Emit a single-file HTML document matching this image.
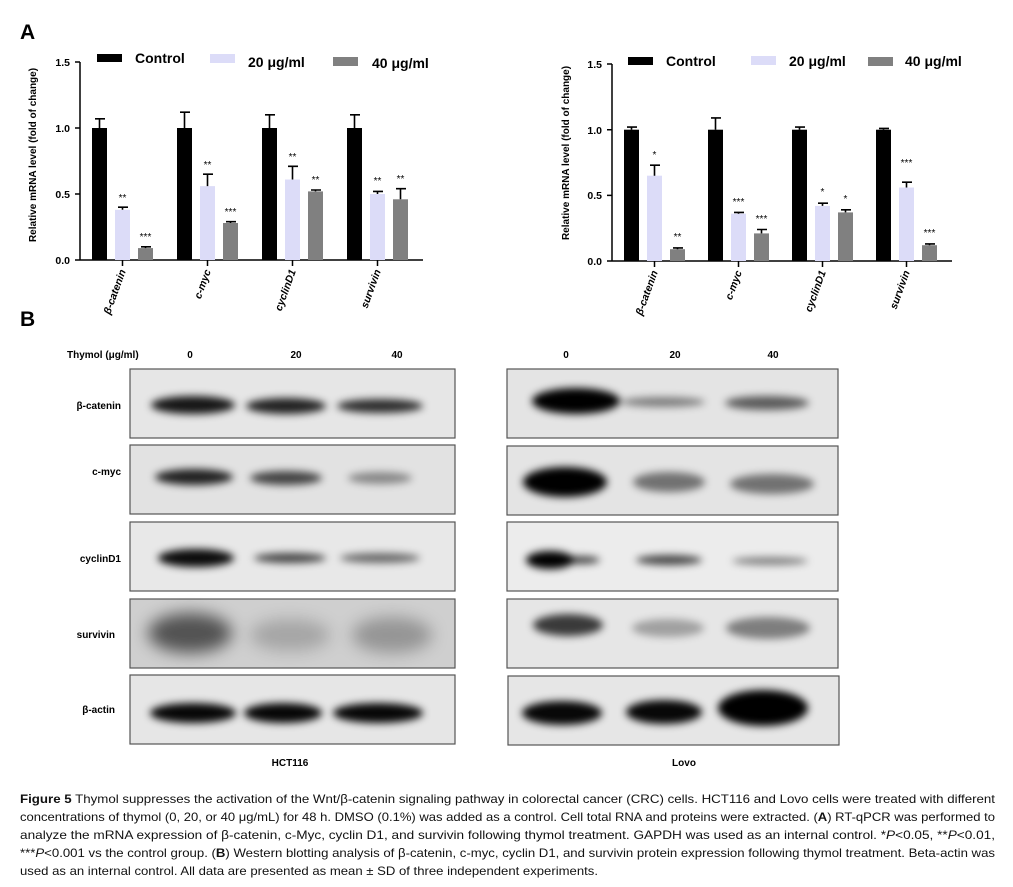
<!DOCTYPE html>
<html><head><meta charset="utf-8"><style>
body{margin:0;background:#fff;width:1013px;height:887px;overflow:hidden;position:relative;font-family:"Liberation Sans",sans-serif}
svg{position:absolute;left:0;top:0}
</style></head><body>
<svg width="1013" height="887" viewBox="0 0 1013 887" font-family="Liberation Sans, sans-serif">
<defs>
<filter id="b" x="-50%" y="-100%" width="200%" height="300%"><feGaussianBlur stdDeviation="4"/></filter>
<filter id="b2" x="-50%" y="-100%" width="200%" height="300%"><feGaussianBlur stdDeviation="8"/></filter>
</defs>
<text x="20" y="39" font-size="21" font-weight="bold">A</text>
<text x="20" y="326" font-size="21" font-weight="bold">B</text>

<!-- LEFT CHART -->
<g font-weight="bold">
<rect x="97" y="54" width="25" height="8" fill="#000"/><text x="135" y="63" font-size="14">Control</text>
<rect x="210" y="54" width="25" height="9" fill="#dcdcf8"/><text x="248" y="67" font-size="14">20 μg/ml</text>
<rect x="333" y="57" width="25" height="9" fill="#808080"/><text x="372" y="68" font-size="14">40 μg/ml</text>
<text transform="translate(36,155) rotate(-90)" text-anchor="middle" font-size="10">Relative mRNA level (fold of change)</text>
<g font-size="10.5" text-anchor="end"><text x="70" y="66">1.5</text><text x="70" y="132">1.0</text><text x="70" y="198">0.5</text><text x="70" y="264">0.0</text></g>
</g>
<g stroke="#000" stroke-width="1.5" fill="none">
<path d="M80 62V260H423M75 62H80M75 128H80M75 194H80M75 260H80M122.5 260v6M207.5 260v6M292.5 260v6M377.5 260v6"/>
</g>
<g>
<rect x="92" y="128" width="15" height="132" fill="#000"/><rect x="115" y="209.8" width="15" height="50.2" fill="#dcdcf8"/><rect x="138" y="248.1" width="15" height="11.9" fill="#808080"/>
<rect x="177" y="128" width="15" height="132" fill="#000"/><rect x="200" y="186.1" width="15" height="73.9" fill="#dcdcf8"/><rect x="223" y="223" width="15" height="37" fill="#808080"/>
<rect x="262" y="128" width="15" height="132" fill="#000"/><rect x="285" y="179.5" width="15" height="80.5" fill="#dcdcf8"/><rect x="308" y="191.4" width="15" height="68.6" fill="#808080"/>
<rect x="347" y="128" width="15" height="132" fill="#000"/><rect x="370" y="194" width="15" height="66" fill="#dcdcf8"/><rect x="393" y="199.3" width="15" height="60.7" fill="#808080"/>
</g>
<g stroke="#000" stroke-width="1.6" fill="none">
<path d="M99.5 128V118.8M95 118.8h10M122.5 209.8v-2.6M118 207.2h10M145.5 248.1v-1.3M141 246.8h10"/>
<path d="M184.5 128V112.2M180 112.2h10M207.5 186.1V174.2M203 174.2h10M230.5 223v-1.3M226 221.7h10"/>
<path d="M269.5 128V114.8M265 114.8h10M292.5 179.5V166.3M288 166.3h10M315.5 191.4V190M311 190h10"/>
<path d="M354.5 128V114.8M350 114.8h10M377.5 194v-2.6M373 191.4h10M400.5 199.3V188.7M396 188.7h10"/>
</g>
<g font-size="10" text-anchor="middle">
<text x="122.5" y="201">**</text><text x="145.5" y="240">***</text>
<text x="207.5" y="168">**</text><text x="230.5" y="215">***</text>
<text x="292.5" y="160">**</text><text x="315.5" y="183">**</text>
<text x="377.5" y="184">**</text><text x="400.5" y="182">**</text>
</g>
<g font-size="10.5" font-weight="bold" font-style="italic" text-anchor="end">
<text transform="translate(126,271) rotate(-70)">β-catenin</text>
<text transform="translate(211,271) rotate(-70)">c-myc</text>
<text transform="translate(296,271) rotate(-70)">cyclinD1</text>
<text transform="translate(381,271) rotate(-70)">survivin</text>
</g>

<!-- RIGHT CHART -->
<g font-weight="bold">
<rect x="628" y="57" width="25" height="8" fill="#000"/><text x="666" y="66" font-size="14">Control</text>
<rect x="751" y="56" width="25" height="9" fill="#dcdcf8"/><text x="789" y="66" font-size="14">20 μg/ml</text>
<rect x="868" y="57" width="25" height="9" fill="#808080"/><text x="905" y="66" font-size="14">40 μg/ml</text>
<text transform="translate(569,153) rotate(-90)" text-anchor="middle" font-size="10">Relative mRNA level (fold of change)</text>
<g font-size="10.5" text-anchor="end"><text x="602" y="68">1.5</text><text x="602" y="134">1.0</text><text x="602" y="199">0.5</text><text x="602" y="265">0.0</text></g>
</g>
<g stroke="#000" stroke-width="1.5" fill="none">
<path d="M612 64V261H952M607 64H612M607 129.7H612M607 195.4H612M607 261H612M654.5 261v6M738.5 261v6M822.5 261v6M906.5 261v6"/>
</g>
<g>
<rect x="624" y="129.7" width="15" height="131.3" fill="#000"/><rect x="647" y="175.7" width="15" height="85.3" fill="#dcdcf8"/><rect x="670" y="249.2" width="15" height="11.8" fill="#808080"/>
<rect x="708" y="129.7" width="15" height="131.3" fill="#000"/><rect x="731" y="213.7" width="15" height="47.3" fill="#dcdcf8"/><rect x="754" y="233.4" width="15" height="27.6" fill="#808080"/>
<rect x="792" y="129.7" width="15" height="131.3" fill="#000"/><rect x="815" y="205.9" width="15" height="55.1" fill="#dcdcf8"/><rect x="838" y="212.4" width="15" height="48.6" fill="#808080"/>
<rect x="876" y="129.7" width="15" height="131.3" fill="#000"/><rect x="899" y="187.5" width="15" height="73.5" fill="#dcdcf8"/><rect x="922" y="245.2" width="15" height="15.8" fill="#808080"/>
</g>
<g stroke="#000" stroke-width="1.6" fill="none">
<path d="M631.5 129.7V127.1M627 127.1h10M654.5 175.7V165.2M650 165.2h10M677.5 249.2v-1.3M673 247.9h10"/>
<path d="M715.5 129.7V117.9M711 117.9h10M738.5 213.7v-1.3M734 212.4h10M761.5 233.4v-3.9M757 229.5h10"/>
<path d="M799.5 129.7V127.1M795 127.1h10M822.5 205.9v-2.7M818 203.2h10M845.5 212.4v-2.6M841 209.8h10"/>
<path d="M883.5 129.7V128.4M879 128.4h10M906.5 187.5v-5.3M902 182.2h10M929.5 245.2v-1.3M925 243.9h10"/>
</g>
<g font-size="10" text-anchor="middle">
<text x="654.5" y="158">*</text><text x="677.5" y="240">**</text>
<text x="738.5" y="205">***</text><text x="761.5" y="222">***</text>
<text x="822.5" y="195">*</text><text x="845.5" y="202">*</text>
<text x="906.5" y="166">***</text><text x="929.5" y="236">***</text>
</g>
<g font-size="10.5" font-weight="bold" font-style="italic" text-anchor="end">
<text transform="translate(658,272) rotate(-70)">β-catenin</text>
<text transform="translate(742,272) rotate(-70)">c-myc</text>
<text transform="translate(826,272) rotate(-70)">cyclinD1</text>
<text transform="translate(910,272) rotate(-70)">survivin</text>
</g>

<!-- WESTERN BLOTS -->
<g font-size="10" font-weight="bold">
<text x="67" y="358">Thymol (μg/ml)</text>
<g text-anchor="middle"><text x="190" y="358">0</text><text x="296" y="358">20</text><text x="397" y="358">40</text>
<text x="566" y="358">0</text><text x="675" y="358">20</text><text x="773" y="358">40</text>
<text x="290" y="766">HCT116</text><text x="684" y="766">Lovo</text></g>
<g text-anchor="end"><text x="121" y="409">β-catenin</text><text x="121" y="475">c-myc</text><text x="121" y="562">cyclinD1</text><text x="115" y="638">survivin</text><text x="115" y="713">β-actin</text></g>
</g>
<g stroke="#555" stroke-width="1.2">
<rect x="130" y="369" width="325" height="69" fill="#e6e6e6"/>
<rect x="130" y="445" width="325" height="69" fill="#e2e2e2"/>
<rect x="130" y="522" width="325" height="69" fill="#e8e8e8"/>
<rect x="130" y="599" width="325" height="69" fill="#cfcfcf"/>
<rect x="130" y="675" width="325" height="69" fill="#e6e6e6"/>
<rect x="507" y="369" width="331" height="69" fill="#e4e4e4"/>
<rect x="507" y="446" width="331" height="69" fill="#e4e4e4"/>
<rect x="507" y="522" width="331" height="69" fill="#ececec"/>
<rect x="507" y="599" width="331" height="69" fill="#e6e6e6"/>
<rect x="508" y="676" width="331" height="69" fill="#e6e6e6"/>
</g>
<g filter="url(#b)" fill="#000">
<ellipse cx="193" cy="405" rx="42" ry="9" opacity="0.9"/><ellipse cx="286" cy="406" rx="40" ry="8" opacity="0.85"/><ellipse cx="380" cy="406" rx="43" ry="7" opacity="0.8"/>
<ellipse cx="194" cy="477" rx="39" ry="8" opacity="0.85"/><ellipse cx="286" cy="478" rx="36" ry="7" opacity="0.7"/><ellipse cx="380" cy="478" rx="32" ry="6" opacity="0.4"/>
<ellipse cx="196" cy="558" rx="38" ry="9" opacity="0.95"/><ellipse cx="290" cy="558" rx="36" ry="5" opacity="0.7"/><ellipse cx="380" cy="558" rx="40" ry="5" opacity="0.55"/>
<ellipse cx="193" cy="713" rx="43" ry="10" opacity="0.97"/><ellipse cx="283" cy="713" rx="39" ry="10" opacity="0.97"/><ellipse cx="378" cy="713" rx="45" ry="10" opacity="0.97"/>
<ellipse cx="576" cy="401" rx="44" ry="13" opacity="1"/><ellipse cx="663" cy="402" rx="42" ry="5" opacity="0.45"/><ellipse cx="767" cy="403" rx="42" ry="7" opacity="0.6"/>
<ellipse cx="565" cy="482" rx="42" ry="15" opacity="1"/><ellipse cx="669" cy="482" rx="36" ry="10" opacity="0.5"/><ellipse cx="772" cy="484" rx="42" ry="10" opacity="0.5"/>
<ellipse cx="550" cy="560" rx="24" ry="9" opacity="1"/><ellipse cx="580" cy="560" rx="20" ry="4" opacity="0.7"/><ellipse cx="669" cy="560" rx="33" ry="5" opacity="0.7"/><ellipse cx="770" cy="561" rx="38" ry="4" opacity="0.45"/>
<ellipse cx="568" cy="625" rx="35" ry="11" opacity="0.75"/><ellipse cx="668" cy="628" rx="36" ry="9" opacity="0.3"/><ellipse cx="768" cy="628" rx="42" ry="11" opacity="0.45"/>
<ellipse cx="562" cy="713" rx="40" ry="12" opacity="0.97"/><ellipse cx="664" cy="712" rx="38" ry="12" opacity="0.97"/><ellipse cx="763" cy="708" rx="45" ry="18" opacity="1"/>
</g>
<g filter="url(#b2)" fill="#000">
<ellipse cx="190" cy="633" rx="42" ry="20" opacity="0.6"/><ellipse cx="290" cy="635" rx="40" ry="16" opacity="0.2"/><ellipse cx="392" cy="635" rx="40" ry="18" opacity="0.28"/>
</g>

<!-- CAPTION -->
<g font-size="12" fill="#111">
<text x="20" y="803" textLength="975" lengthAdjust="spacingAndGlyphs"><tspan font-weight="bold">Figure 5</tspan> Thymol suppresses the activation of the Wnt/β-catenin signaling pathway in colorectal cancer (CRC) cells. HCT116 and Lovo cells were treated with different</text>
<text x="20" y="821" textLength="975" lengthAdjust="spacingAndGlyphs">concentrations of thymol (0, 20, or 40 μg/mL) for 48 h. DMSO (0.1%) was added as a control. Cell total RNA and proteins were extracted. (<tspan font-weight="bold">A</tspan>) RT-qPCR was performed to</text>
<text x="20" y="839" textLength="975" lengthAdjust="spacingAndGlyphs">analyze the mRNA expression of β-catenin, c-Myc, cyclin D1, and survivin following thymol treatment. GAPDH was used as an internal control. *<tspan font-style="italic">P</tspan>&lt;0.05, **<tspan font-style="italic">P</tspan>&lt;0.01,</text>
<text x="20" y="857" textLength="975" lengthAdjust="spacingAndGlyphs">***<tspan font-style="italic">P</tspan>&lt;0.001 vs the control group. (<tspan font-weight="bold">B</tspan>) Western blotting analysis of β-catenin, c-myc, cyclin D1, and survivin protein expression following thymol treatment. Beta-actin was</text>
<text x="20" y="875" textLength="578" lengthAdjust="spacingAndGlyphs">used as an internal control. All data are presented as mean ± SD of three independent experiments.</text>
</g>
</svg>
</body></html>
